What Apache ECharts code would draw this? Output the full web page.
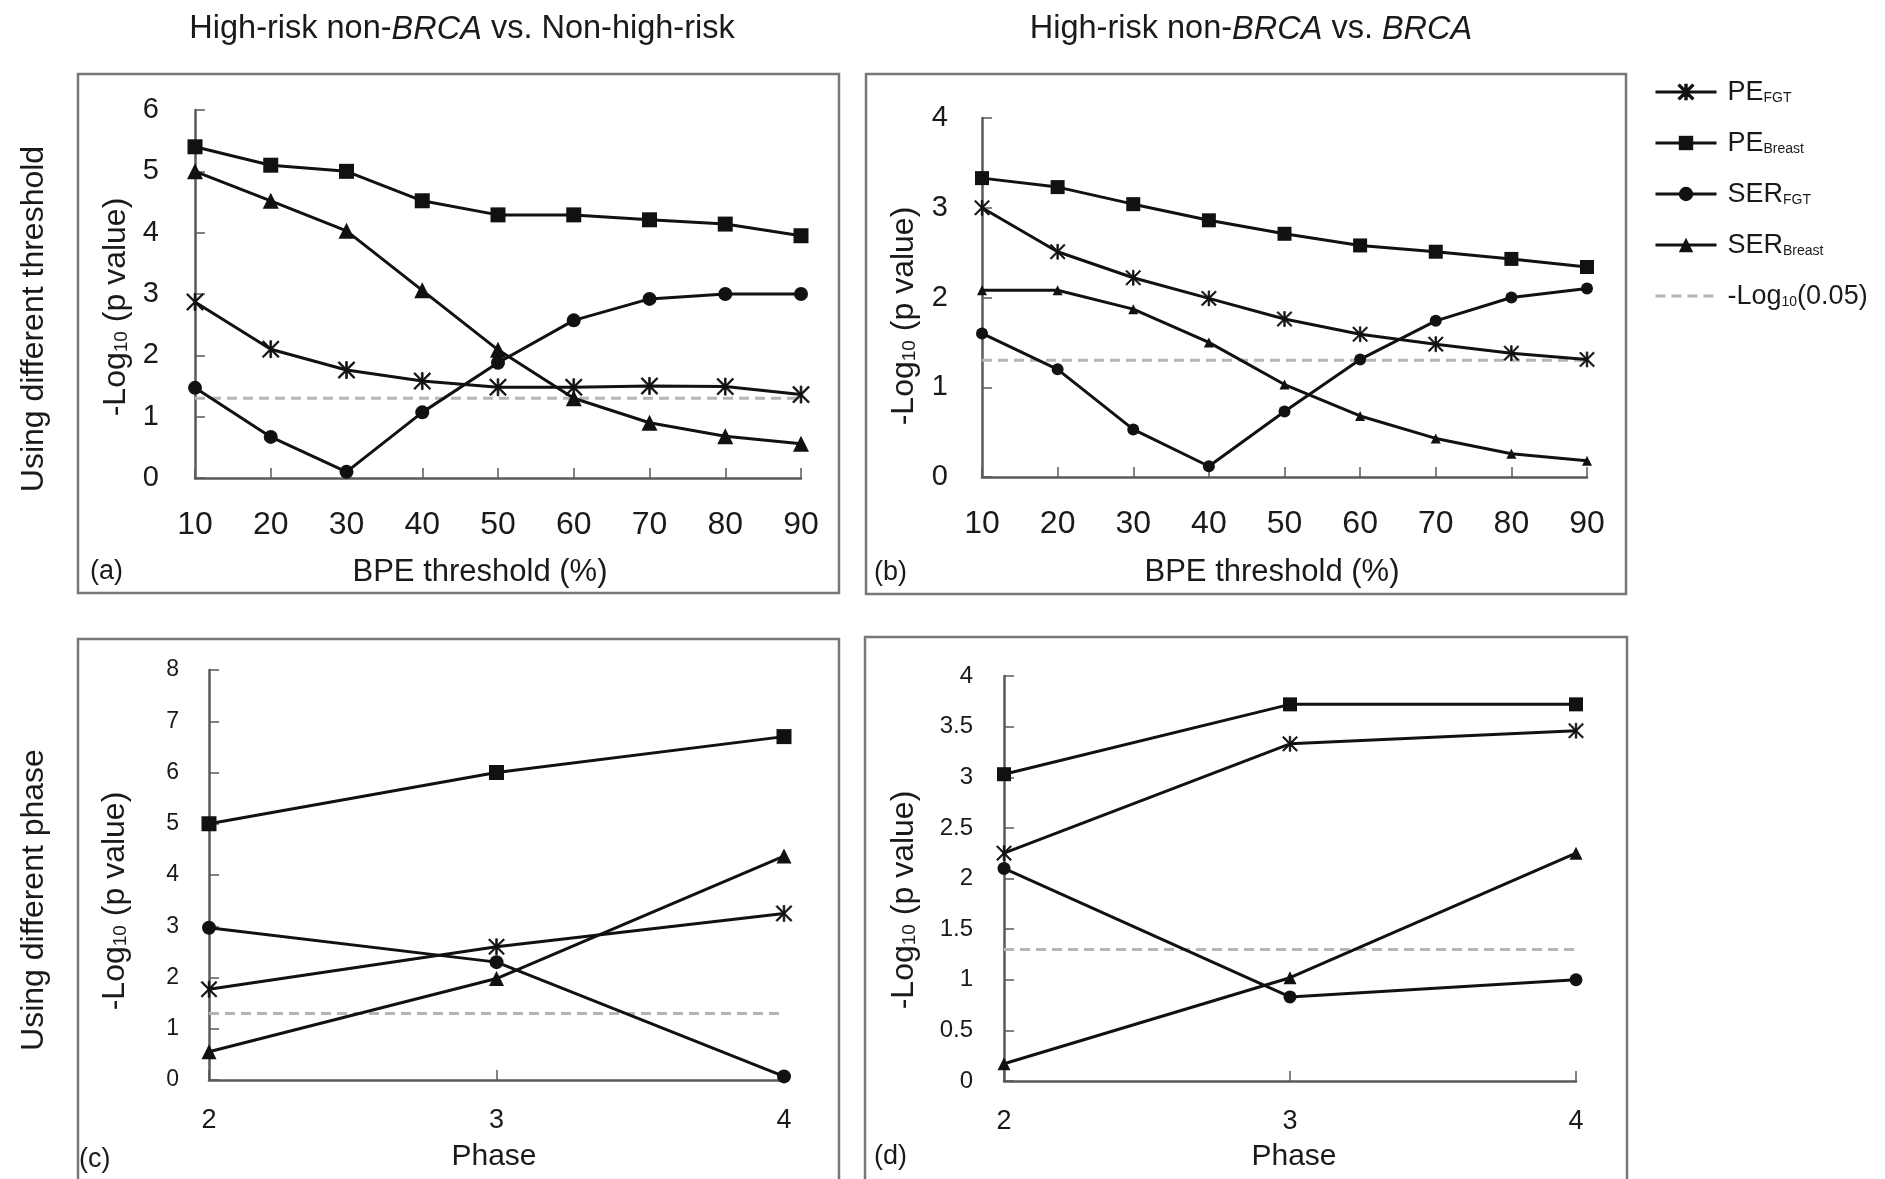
<!DOCTYPE html>
<html>
<head>
<meta charset="utf-8">
<script src="https://cdn.jsdelivr.net/npm/echarts@6/dist/echarts.min.js"></script>
<style>
html,body{margin:0;padding:0;background:#fff;}
#chart{width:1885px;height:1179px;}
</style>
</head>
<body>
<div id="chart"></div>
<script>
// ---------------- data ----------------
const thresholds = ['10', '20', '30', '40', '50', '60', '70', '80', '90'];
const phases = ['2', '3', '4'];

const a_PE_FGT     = [2.87, 2.10, 1.76, 1.58, 1.48, 1.48, 1.50, 1.49, 1.36];
const a_PE_Breast  = [5.40, 5.10, 5.00, 4.52, 4.29, 4.29, 4.21, 4.14, 3.95];
const a_SER_FGT    = [1.47, 0.67, 0.10, 1.07, 1.88, 2.57, 2.92, 3.00, 3.00];
const a_SER_Breast = [5.00, 4.52, 4.03, 3.06, 2.09, 1.30, 0.90, 0.68, 0.56];

const b_PE_FGT     = [3.00, 2.51, 2.22, 1.99, 1.76, 1.59, 1.48, 1.38, 1.31];
const b_PE_Breast  = [3.33, 3.23, 3.04, 2.86, 2.71, 2.58, 2.51, 2.43, 2.34];
const b_SER_FGT    = [1.60, 1.20, 0.53, 0.12, 0.73, 1.31, 1.74, 2.00, 2.10];
const b_SER_Breast = [2.08, 2.08, 1.87, 1.50, 1.03, 0.68, 0.43, 0.26, 0.18];

const c_PE_FGT     = [1.77, 2.60, 3.25];
const c_PE_Breast  = [5.00, 6.00, 6.70];
const c_SER_FGT    = [2.97, 2.30, 0.07];
const c_SER_Breast = [0.55, 1.98, 4.37];

const d_PE_FGT     = [2.25, 3.33, 3.46];
const d_PE_Breast  = [3.03, 3.72, 3.72];
const d_SER_FGT    = [2.10, 0.83, 1.00];
const d_SER_Breast = [0.17, 1.02, 2.25];

const cutoffThreshold = [1.30, 1.30, 1.30, 1.30, 1.30, 1.30, 1.30, 1.30, 1.30];
const cutoffPhase = [1.30, 1.30, 1.30];

const seriesNames = ['PE_FGT', 'PE_Breast', 'SER_FGT', 'SER_Breast', 'CUT'];
const legendLabels = {
  PE_FGT: '{m|PE}{s|FGT}',
  PE_Breast: '{m|PE}{s|Breast}',
  SER_FGT: '{m|SER}{s|FGT}',
  SER_Breast: '{m|SER}{s|Breast}',
  CUT: '{m|-Log}{s|10}{m|(0.05)}'
};

// ---------------- style ----------------
const FONT = "'Liberation Sans', Arial, sans-serif";
const AXIS_COLOR = '#5a5a5a';
const CUT_COLOR = '#b5b5b5';
const asteriskPath = 'path://M9 0 L11 0 L11 20 L9 20 Z M0 1.4 L1.4 0 L20 18.6 L18.6 20 Z M18.6 0 L20 1.4 L1.4 20 L0 18.6 Z';

const panels = [
  {grid: {left: 195, top: 110, width: 606, height: 368}, cats: thresholds, max: 6, interval: 1,
   yFont: 29, xFont: 32, yMargin: 36, xMargin: 31,
   data: [a_PE_FGT, a_PE_Breast, a_SER_FGT, a_SER_Breast, cutoffThreshold],
   sizes: [17, 15, 14, 16]},
  {grid: {left: 982, top: 118, width: 605, height: 359}, cats: thresholds, max: 4, interval: 1,
   yFont: 29, xFont: 32, yMargin: 34, xMargin: 31,
   data: [b_PE_FGT, b_PE_Breast, b_SER_FGT, b_SER_Breast, cutoffThreshold],
   sizes: [15, 14, 12, 10]},
  {grid: {left: 209, top: 670, width: 575, height: 410}, cats: phases, max: 8, interval: 1,
   yFont: 23, xFont: 27, yMargin: 30, xMargin: 27,
   data: [c_PE_FGT, c_PE_Breast, c_SER_FGT, c_SER_Breast, cutoffPhase],
   sizes: [16, 15, 14, 15]},
  {grid: {left: 1004, top: 676, width: 572, height: 405}, cats: phases, max: 4, interval: 0.5,
   yFont: 24, xFont: 27, yMargin: 31, xMargin: 27,
   data: [d_PE_FGT, d_PE_Breast, d_SER_FGT, d_SER_Breast, cutoffPhase],
   sizes: [15, 14, 13, 13]}
];

const symbols = [asteriskPath, 'rect', 'circle', 'triangle'];

const grids = [], xAxes = [], yAxes = [], series = [];
panels.forEach((p, i) => {
  grids.push(Object.assign({containLabel: false}, p.grid));
  xAxes.push({
    type: 'category', gridIndex: i, data: p.cats, boundaryGap: false,
    axisLine: {lineStyle: {color: AXIS_COLOR, width: 2.5}},
    axisTick: {inside: true, length: 10, lineStyle: {color: AXIS_COLOR, width: 1.5}},
    axisLabel: {color: '#1a1a1a', fontSize: p.xFont, fontFamily: FONT, margin: p.xMargin},
    splitLine: {show: false}
  });
  yAxes.push({
    type: 'value', gridIndex: i, min: 0, max: p.max, interval: p.interval,
    axisLine: {show: true, lineStyle: {color: AXIS_COLOR, width: 2.5}},
    axisTick: {show: true, inside: true, length: 10, lineStyle: {color: AXIS_COLOR, width: 1.5}},
    axisLabel: {color: '#1a1a1a', fontSize: p.yFont, fontFamily: FONT, margin: p.yMargin},
    splitLine: {show: false}
  });
  // cutoff line first (underneath)
  series.push({
    name: 'CUT', type: 'line', xAxisIndex: i, yAxisIndex: i, data: p.data[4],
    symbol: 'none', silent: true, z: 1,
    lineStyle: {color: CUT_COLOR, width: 3, type: [10, 6]},
    itemStyle: {color: CUT_COLOR, opacity: 0}
  });
  for (let k = 0; k < 4; k++) {
    series.push({
      name: seriesNames[k], type: 'line', xAxisIndex: i, yAxisIndex: i, data: p.data[k],
      symbol: symbols[k], symbolSize: p.sizes[k], showSymbol: true, z: 3,
      lineStyle: {color: '#111', width: 3},
      itemStyle: {color: '#111', borderColor: '#111', borderWidth: k === 0 ? 0.8 : 0}
    });
  }
});

function rotText(x, y, richText, size, subSize) {
  return {
    type: 'text', x: x, y: y, rotation: Math.PI / 2,
    style: {
      text: richText, fill: '#1a1a1a', font: size + 'px ' + FONT,
      align: 'center', verticalAlign: 'middle',
      rich: {
        m: {fontSize: size, fontFamily: FONT, fill: '#1a1a1a', lineHeight: size + 6, verticalAlign: 'bottom'},
        s: {fontSize: subSize, fontFamily: FONT, fill: '#1a1a1a', lineHeight: size + 6, verticalAlign: 'bottom', padding: [0, 0, 1, 0]}
      }
    }
  };
}
function plainText(x, y, txt, size, align) {
  return {
    type: 'text', x: x, y: y,
    style: {text: txt, fill: '#1a1a1a', font: size + 'px ' + FONT, align: align || 'center', verticalAlign: 'middle'}
  };
}
function box(x1, y1, x2, y2) {
  return {type: 'rect', shape: {x: x1, y: y1, width: x2 - x1, height: y2 - y1},
          style: {fill: 'none', stroke: '#777', lineWidth: 2.5}, z: 0, silent: true};
}

const yName = '{m|-Log}{s|10}{m| (p value)}';

const titleStyle = {
  fontSize: 32.5, fontWeight: 'normal', color: '#1a1a1a', fontFamily: FONT,
  rich: {i: {fontStyle: 'italic', fontSize: 32.5, color: '#1a1a1a', fontFamily: FONT}}
};

const option = {
  backgroundColor: '#fff',
  animation: false,
  title: [
    {text: 'High-risk non-{i|BRCA} vs. Non-high-risk', left: 457, top: 8, textAlign: 'center', textStyle: titleStyle},
    {text: 'High-risk non-{i|BRCA} vs. {i|BRCA}', left: 1246, top: 8, textAlign: 'center', textStyle: titleStyle}
  ],
  legend: {
    data: seriesNames,
    orient: 'vertical', left: 1649, top: 74,
    itemWidth: 61, itemHeight: 18, itemGap: 24,
    lineStyle: {width: 3},
    formatter: name => legendLabels[name],
    textStyle: {
      color: '#1a1a1a', fontFamily: FONT, padding: [0, 0, 0, 6],
      rich: {
        m: {fontSize: 27, fontFamily: FONT, color: '#1a1a1a', lineHeight: 28, verticalAlign: 'bottom'},
        s: {fontSize: 14, fontFamily: FONT, color: '#1a1a1a', lineHeight: 28, verticalAlign: 'bottom', padding: [0, 0, 1, 0]}
      }
    }
  },
  grid: grids,
  xAxis: xAxes,
  yAxis: yAxes,
  series: series,
  graphic: [
    box(78, 74, 839, 593),
    box(866, 74, 1626, 594),
    box(78, 639, 839, 1195),
    box(865, 637, 1627, 1195),
    rotText(34, 319, 'Using different threshold', 32, 32),
    rotText(34, 900, 'Using different phase', 32, 32),
    rotText(113, 307, yName, 32, 19),
    rotText(901, 316, yName, 32, 19),
    rotText(112, 901, yName, 32, 19),
    rotText(901, 900, yName, 32, 19),
    plainText(480, 572, 'BPE threshold (%)', 31),
    plainText(1272, 572, 'BPE threshold (%)', 31),
    plainText(494, 1157, 'Phase', 30),
    plainText(1294, 1157, 'Phase', 30),
    plainText(90, 572, '(a)', 27, 'left'),
    plainText(874, 573, '(b)', 27, 'left'),
    plainText(79, 1160, '(c)', 27, 'left'),
    plainText(874, 1157, '(d)', 27, 'left')
  ]
};

const chart = echarts.init(document.getElementById('chart'), null, {renderer: 'canvas'});
chart.setOption(option);
</script>
</body>
</html>
